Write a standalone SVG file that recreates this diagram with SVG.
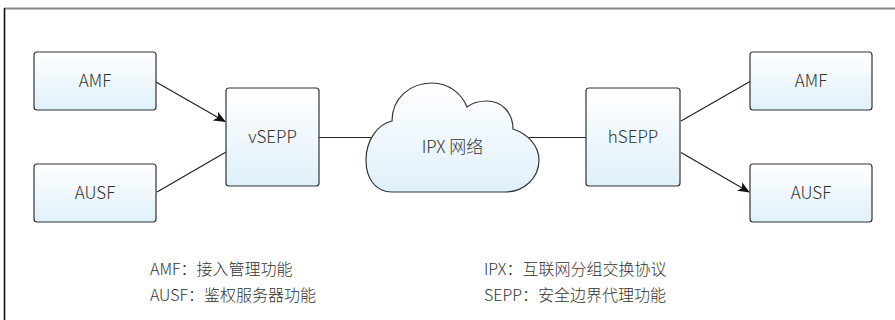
<svg xmlns="http://www.w3.org/2000/svg" width="895" height="320" viewBox="0 0 895 320">
  <defs>
    <linearGradient id="boxGrad" x1="0" y1="0" x2="0" y2="1">
      <stop offset="0" stop-color="#ffffff"/>
      <stop offset="1" stop-color="#dff0fa"/>
    </linearGradient>
    <marker id="arrow" viewBox="0 0 12 10" refX="11" refY="5" markerWidth="12" markerHeight="10" markerUnits="userSpaceOnUse" orient="auto">
      <path d="M0,0 L12,5 L0,10 L3,5 Z" fill="#111"/>
    </marker>
    <style>
      .box { fill: url(#boxGrad); stroke: #333; stroke-width: 1.2; }
      .edge { stroke: #222; stroke-width: 1.2; fill: none; }
      .lbl { font-family: "Noto Sans CJK SC", "Noto Sans", "Liberation Sans", sans-serif; font-size: 17px; fill: #333; text-anchor: middle; font-weight: 300; }
      .legend { font-family: "Noto Sans CJK SC", "Noto Sans", sans-serif; font-size: 16px; fill: #333; font-weight: 300; }
    </style>
  </defs>
  <rect x="0" y="0" width="895" height="320" fill="#ffffff"/>
  <line x1="4" y1="8.5" x2="895" y2="8.5" stroke="#888" stroke-width="2"/>
  <line x1="4.5" y1="8" x2="4.5" y2="320" stroke="#111" stroke-width="1.6"/>

  <g id="connectors">
    <line class="edge" x1="156" y1="82" x2="225" y2="121.5" marker-end="url(#arrow)"/>
    <line class="edge" x1="157" y1="192" x2="226" y2="152"/>
    <line class="edge" x1="319" y1="137.5" x2="380" y2="137.5"/>
    <line class="edge" x1="520" y1="137.5" x2="586" y2="137.5"/>
    <line class="edge" x1="681" y1="121" x2="750" y2="81.5"/>
    <line class="edge" x1="681" y1="152.5" x2="749" y2="192" marker-end="url(#arrow)"/>
  </g>

  <g id="amf-left">
    <rect class="box" x="34" y="52" width="122" height="58" rx="3"/>
    <text class="lbl" x="95" y="87">AMF</text>
  </g>
  <g id="ausf-left">
    <rect class="box" x="34" y="164" width="122" height="58" rx="3"/>
    <text class="lbl" x="95" y="199">AUSF</text>
  </g>
  <g id="vsepp">
    <rect class="box" x="226" y="88" width="93" height="98" rx="3"/>
    <text class="lbl" x="272.5" y="143">vSEPP</text>
  </g>
  <g id="ipx-cloud">
    <path class="box" d="M392,192 C375,192 366,178 366,160 C366,140 378,124 392,121 C392,98 410,83 432,83 C449,83 462,94 467,107 C472,103 480,101 487,101 C502,101 513,113 513,129 C528,134 539,146 539,160 C539,178 524,192 505,192 Z"/>
    <text class="lbl" x="452.5" y="153">IPX 网络</text>
  </g>
  <g id="hsepp">
    <rect class="box" x="586" y="88" width="94" height="98" rx="3"/>
    <text class="lbl" x="633" y="143">hSEPP</text>
  </g>
  <g id="amf-right">
    <rect class="box" x="750" y="52" width="122" height="58" rx="3"/>
    <text class="lbl" x="811" y="87">AMF</text>
  </g>
  <g id="ausf-right">
    <rect class="box" x="750" y="164" width="122" height="58" rx="3"/>
    <text class="lbl" x="811" y="199">AUSF</text>
  </g>

  <g id="legend">
    <text class="legend" x="150" y="275">AMF：接入管理功能</text>
    <text class="legend" x="150" y="301">AUSF：鉴权服务器功能</text>
    <text class="legend" x="484" y="275">IPX：互联网分组交换协议</text>
    <text class="legend" x="484" y="301">SEPP：安全边界代理功能</text>
  </g>
</svg>
